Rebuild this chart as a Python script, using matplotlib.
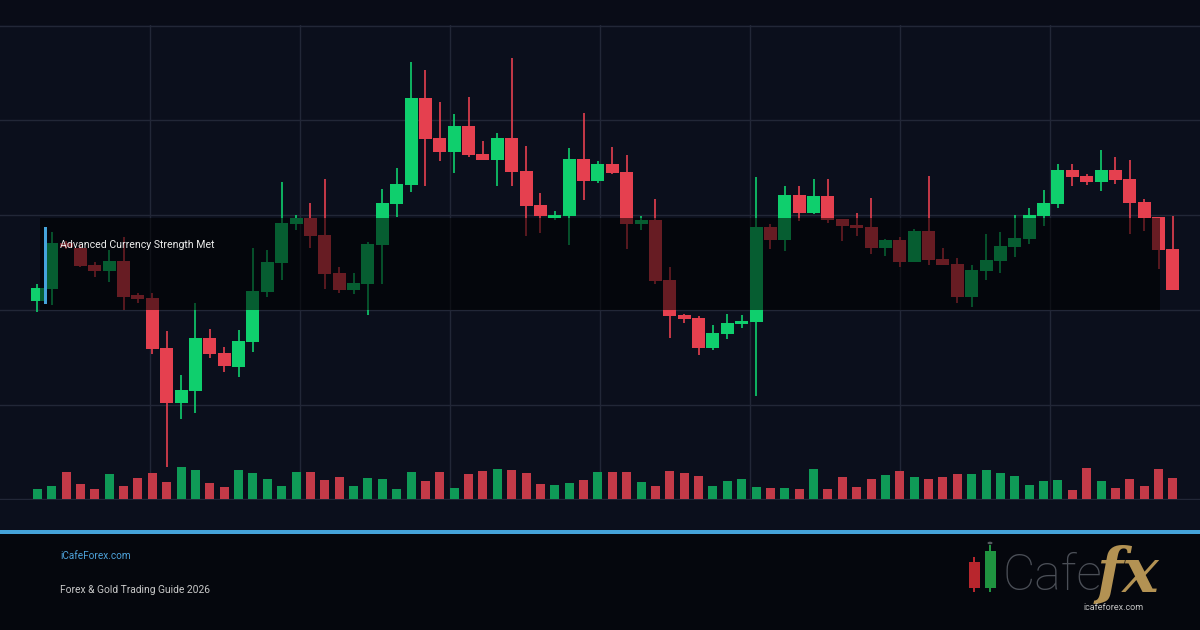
import matplotlib.pyplot as plt
from matplotlib.patches import Rectangle, Circle
import numpy as np

_BACKGROUND = '#0b0f1c'
_TOP_STRIP = '#090c17'
_FOOTER = '#05070d'
_GRID = '#222737'
_UP = '#0fcf6d'
_DOWN = '#e5404f'
_VOL_UP = '#0f9a57'
_VOL_DOWN = '#c33a48'
_ACCENT = '#45a3da'

plt.rcParams['font.family'] = ['Roboto', 'DejaVu Sans']

# price levels (arbitrary units, 0 = volume baseline)
opens = [199, 211, 257, 252, 235, 229, 239, 205, 202, 152, 97, 109, 162, 147, 133, 158,
         208, 237, 276, 282, 265, 227, 210, 216, 255, 296, 315, 402, 362, 348, 374, 346,
         340, 362, 329, 295, 282, 284, 341, 319, 336, 328, 276, 280, 220, 185, 182, 152,
         166, 176, 178, 273, 260, 305, 287, 304, 281, 275, 273, 252, 260, 238, 269, 241,
         236, 203, 229, 239, 253, 261, 284, 296, 330, 324, 318, 330, 321, 298, 283, 251]
highs = [216, 268, 259, 255, 238, 250, 263, 207, 207, 169, 125, 197, 171, 153, 170, 252,
         250, 318, 285, 297, 321, 233, 227, 258, 311, 332, 439, 430, 398, 386, 403, 359,
         367, 443, 354, 307, 289, 352, 387, 339, 353, 345, 284, 301, 233, 186, 184, 175,
         186, 185, 323, 276, 314, 314, 321, 321, 281, 287, 302, 261, 263, 271, 324, 252,
         242, 235, 266, 268, 285, 292, 310, 336, 336, 326, 350, 343, 340, 301, 283, 284]
lows = [188, 195, 251, 233, 223, 218, 190, 197, 146, 32, 81, 87, 142, 128, 123, 148,
        203, 220, 270, 252, 211, 207, 206, 185, 216, 283, 308, 314, 339, 327, 343, 340,
        314, 314, 264, 267, 280, 255, 300, 317, 326, 251, 270, 216, 162, 177, 145, 150,
        161, 172, 104, 251, 249, 279, 286, 277, 259, 264, 246, 244, 233, 238, 235, 235,
        197, 193, 220, 227, 243, 256, 274, 292, 314, 315, 309, 316, 266, 269, 231, 210]
closes = [212, 257, 253, 234, 229, 239, 203, 201, 151, 97, 110, 162, 146, 134, 159, 209,
          238, 277, 282, 264, 226, 210, 217, 256, 297, 316, 402, 361, 348, 374, 345, 340,
          362, 328, 294, 284, 285, 341, 319, 336, 327, 276, 280, 219, 184, 181, 152, 167,
          177, 179, 273, 260, 305, 287, 304, 280, 274, 272, 252, 260, 238, 269, 240, 235,
          203, 230, 240, 254, 262, 285, 297, 330, 323, 318, 330, 320, 297, 282, 250, 210]
volumes = [10, 13, 27, 15, 10, 25, 13, 21, 26, 17, 32, 29, 16, 12, 29, 26, 20, 13, 27, 27,
           19, 22, 13, 21, 20, 10, 27, 18, 27, 11, 25, 28, 30, 29, 26, 15, 14, 16, 19, 27,
           27, 27, 17, 13, 28, 26, 23, 13, 18, 20, 12, 11, 11, 10, 30, 10, 22, 12, 20, 24,
           28, 22, 20, 22, 25, 25, 29, 26, 23, 14, 18, 19, 9, 31, 18, 11, 20, 13, 30, 21]

# highlighted zone and its marker
zone_start, zone_end = 0.19, 78.1
zone_low, zone_high = 190, 282
zone_label = 'Advanced Currency Strength Met'

site_name = 'iCafeForex.com'
subtitle = 'Forex & Gold Trading Guide 2026'
logo_url = 'icafeforex.com'

_W, _H = 1200, 630
_X0, _STEP = 37.3, 14.375  # pixel position of first candle, candle spacing


def _fx(x):
    return x / _W


def _fy(y):
    return 1 - y / _H


def _draw_candles(ax):
    x = np.arange(len(opens))
    o, h, l, c = (np.array(a, dtype=float) for a in (opens, highs, lows, closes))
    up = c >= o
    colors = np.where(up, _UP, _DOWN)
    ax.vlines(x, l, h, colors=colors, lw=1.2, zorder=2)
    body = np.maximum(np.abs(c - o), 1.5)
    ax.bar(x, body, bottom=np.minimum(o, c), width=0.9, color=colors, lw=0, zorder=3)
    ax.bar(x, volumes, width=0.63, color=np.where(up, _VOL_UP, _VOL_DOWN), lw=0, zorder=2)


def make_chart():
    fig = plt.figure(figsize=(12, 6.3), dpi=100, facecolor=_BACKGROUND)
    fig.add_artist(Rectangle((0, _fy(25)), 1, 1 - _fy(25), transform=fig.transFigure,
                             color=_TOP_STRIP, lw=0, zorder=0))
    fig.add_artist(Rectangle((0, 0), 1, _fy(533), transform=fig.transFigure,
                             color=_FOOTER, lw=0, zorder=0))
    fig.add_artist(Rectangle((0, _fy(534)), 1, 4 / _H, transform=fig.transFigure,
                             color=_ACCENT, lw=0, zorder=1))

    ax = fig.add_axes([0, _fy(500), 1, 475 / _H])
    ax.set_facecolor(_BACKGROUND)
    for s in ax.spines.values():
        s.set_visible(False)
    ax.set_xlim(-_X0 / _STEP, (_W - _X0) / _STEP)
    ax.set_ylim(-0.6, 475.6)
    ax.set_xticks([(p - _X0) / _STEP for p in range(150, 1200, 150)])
    ax.set_yticks(range(0, 476, 95))
    ax.tick_params(length=0, labelbottom=False, labelleft=False)
    ax.grid(color=_GRID, lw=1)
    ax.set_axisbelow(True)

    _draw_candles(ax)

    ax.add_patch(Rectangle((zone_start, zone_low), zone_end - zone_start,
                           zone_high - zone_low, facecolor='black', alpha=0.55,
                           lw=0, zorder=4))
    ax.add_patch(Rectangle((0.47, 196), 0.22, 77, facecolor=_ACCENT, lw=0, zorder=5))
    ax.text(1.58, 255, zone_label, color='#ececec', fontsize=7.6, va='center', zorder=6)

    fig.text(_fx(60), _fy(556), site_name, color='#4da2da', fontsize=7.2, va='center')
    fig.text(_fx(60), _fy(590), subtitle, color='#c9c9c9', fontsize=7.4, va='center')

    # logo: candle icon, wordmark and url
    for xc, top, bot, wt, wb, col in [(974, 562, 588, 557, 592, '#b8262d'),
                                      (990, 551, 588, 545, 592, '#1f9440')]:
        fig.add_artist(Rectangle((_fx(xc - 0.7), _fy(wb)), 1.4 / _W, (wb - wt) / _H,
                                 transform=fig.transFigure, color=col, lw=0))
        fig.add_artist(Rectangle((_fx(xc - 5.5), _fy(bot)), 11 / _W, (bot - top) / _H,
                                 transform=fig.transFigure, color=col, lw=0))
    fig.add_artist(Circle((_fx(990), _fy(543)), 2.5 / _W, transform=fig.transFigure,
                          color='#555a60', lw=0))
    fig.text(_fx(1003), _fy(590), 'Cafe', color='#4b4f57', fontsize=36,
             fontweight='light', va='baseline')
    fig.text(_fx(1097), _fy(592), 'fx', color='#b39253', fontsize=44,
             family='DejaVu Serif', style='italic', fontweight='bold', va='baseline')
    fig.text(_fx(1113), _fy(608), logo_url, color='#c4c4c4', fontsize=6.5,
             ha='center', va='center')

    fig.savefig('out.png', dpi=100, facecolor=fig.get_facecolor())


if __name__ == '__main__':
    make_chart()
